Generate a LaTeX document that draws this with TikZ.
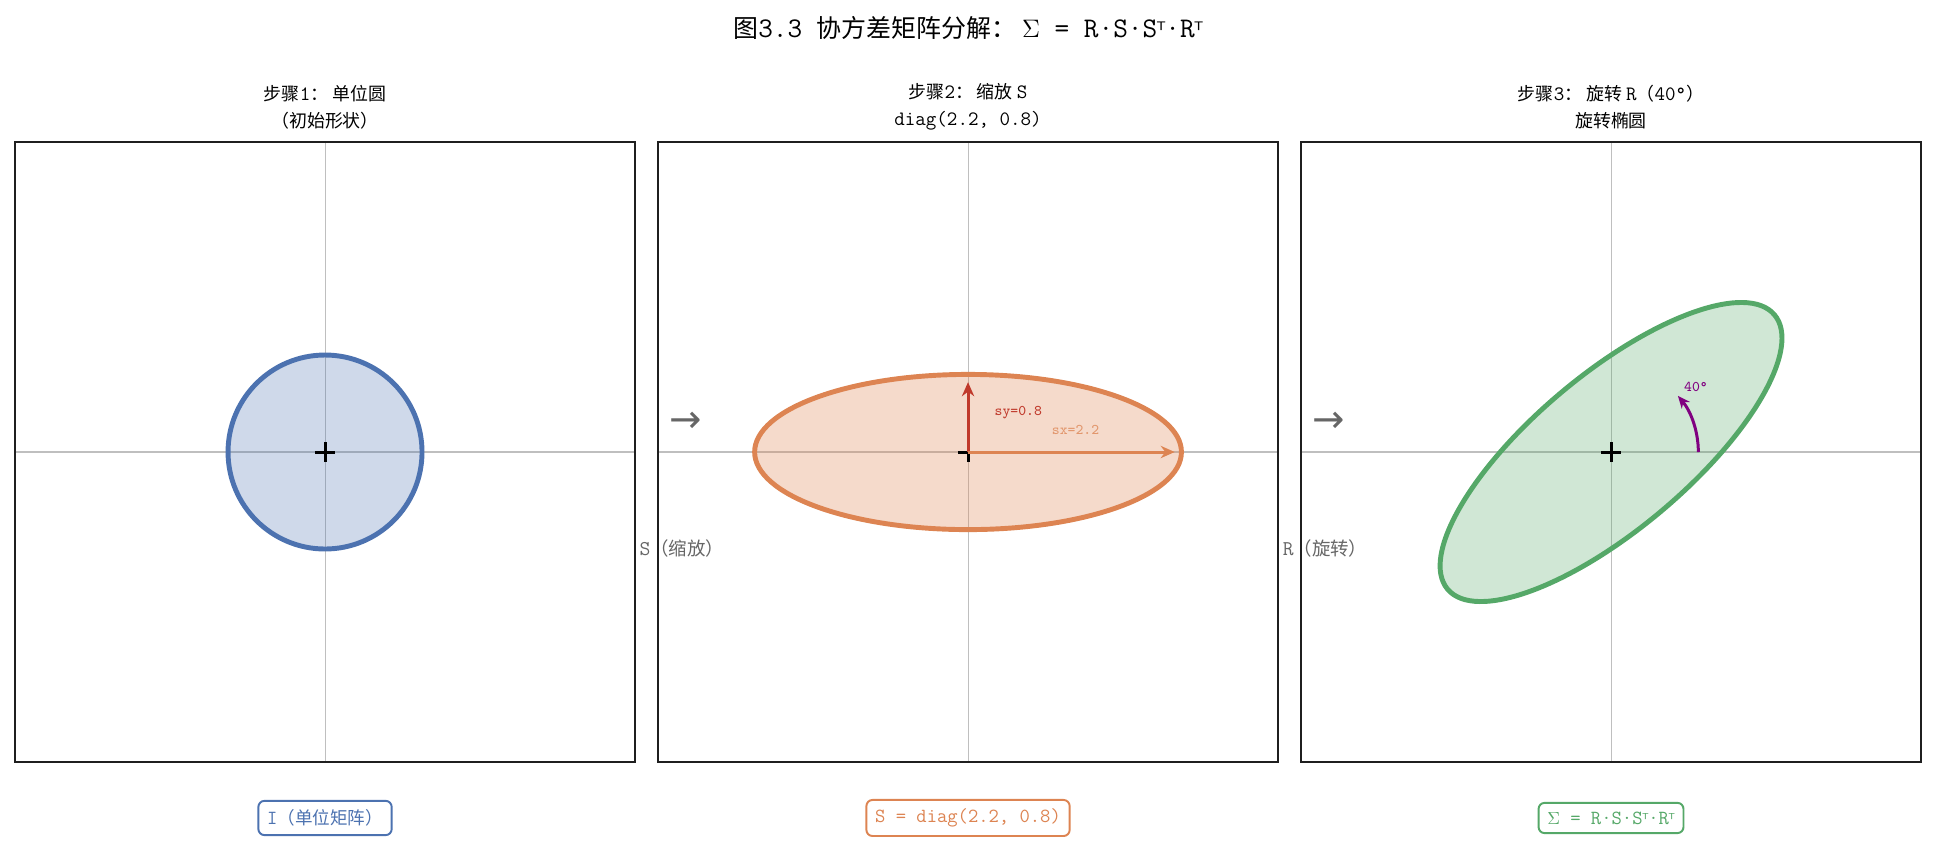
\documentclass[tikz,border=0pt]{standalone}
\usepackage{fontspec}
\setmainfont{Noto Sans CJK SC}
\setmonofont{Latin Modern Mono}[Scale=1.14]
\newfontfamily\djv{DejaVu Sans}
\usetikzlibrary{arrows.meta}

\definecolor{cblue}{HTML}{4C72B0}
\definecolor{corange}{HTML}{DD8452}
\definecolor{cgreen}{HTML}{55A868}
\definecolor{cred}{HTML}{C0392B}
\definecolor{cpurple}{HTML}{800080}

\newcommand{\supT}{{\djv\fontsize{0.85em}{1em}\selectfont ᵀ}}
\newcommand{\covar}{$\Sigma$\texttt{  = R·S·S}\supT\texttt{·R}\supT}

\tikzset{
  frame/.style={draw=black!88, line width=1.1pt},
  gridline/.style={draw=black!25, line width=0.6pt},
  centremark/.style={draw=black, line width=1.7pt},
  shapeline/.style={line width=2.8pt},
  paneltitle/.style={align=center, font=\fontsize{10.2}{15.5}\selectfont},
  sidenote/.style={text=black!60, font=\fontsize{10.5}{12}\selectfont},
  sidearrow/.style={text=black!60, font=\djv\fontsize{22}{24}\selectfont},
  tag/.style={draw, rounded corners=3.5pt, line width=1.1pt, fill=white,
    inner xsep=5pt, inner ysep=5pt, font=\fontsize{10}{12}\selectfont},
  small/.style={font=\ttfamily\fontsize{7.4}{10}\selectfont, anchor=west}
}

\begin{document}
\begin{tikzpicture}[x=1.94cm, y=1.94cm]
  \useasboundingbox (-3.351,-4.021) rectangle (16.598,4.660);

  % panel centres
  \coordinate (c1) at (0,0);
  \coordinate (c2) at (6.629,0);
  \coordinate (c3) at (13.258,0);

  % frames and grid lines
  \foreach \c in {c1,c2,c3} {
    \draw[gridline] ([xshift=-3.196*1.94cm]\c) -- ([xshift=3.196*1.94cm]\c);
    \draw[gridline] ([yshift=-3.196*1.94cm]\c) -- ([yshift=3.196*1.94cm]\c);
    \draw[frame] ([shift={(-3.196,-3.196)}]\c) rectangle ([shift={(3.196,3.196)}]\c);
  }

  \node (title) at (6.63,4.371) {\fontsize{14.2}{17}\selectfont 图\texttt{3.3 }协方差矩阵分解： \covar};

  \node[paneltitle] (t1) at (0,3.557) {步骤\texttt{1}： 单位圆\\（初始形状）};
  \node[paneltitle] (t2) at (6.629,3.557) {步骤\texttt{2}： 缩放 \texttt{S}\\\texttt{diag(2.2, 0.8)}};
  \node[paneltitle] (t3) at (13.258,3.557) {步骤\texttt{3}： 旋转 \texttt{R}（\texttt{40°}）\\旋转椭圆};

  % step 1: unit circle
  \fill[cblue, opacity=0.27] (c1) circle (1);
  \draw[cblue, shapeline] (c1) circle (1);
  \draw[centremark] ([xshift=-0.2cm]c1) -- ([xshift=0.2cm]c1);
  \draw[centremark] ([yshift=-0.2cm]c1) -- ([yshift=0.2cm]c1);

  % step 2: scaled ellipse
  \fill[corange, opacity=0.3] (c2) ellipse (2.2 and 0.8);
  \draw[corange, shapeline] (c2) ellipse (2.2 and 0.8);
  \draw[centremark] ([xshift=-0.2cm]c2) -- ([xshift=0.2cm]c2);
  \draw[centremark] ([yshift=-0.2cm]c2) -- ([yshift=0.2cm]c2);
  \coordinate (sytip) at (6.629,0.72);
  \coordinate (sxtip) at (8.76,0);
  \draw[cred, line width=1.7pt, -{Stealth[length=8pt,width=7pt]}] (c2) -- (sytip);
  \draw[corange, line width=1.7pt, -{Stealth[length=8pt,width=7pt]}] (c2) -- (sxtip);
  \node[small, text=cred] (sy) at (6.84,0.41) {sy=0.8};
  \node[small, text=corange!85] (sx) at (7.43,0.227) {sx=2.2};

  % step 3: rotated ellipse
  \begin{scope}[shift={(c3)}, rotate=40]
    \fill[cgreen, opacity=0.28] (0,0) ellipse (2.2 and 0.8);
    \draw[cgreen, shapeline] (0,0) ellipse (2.2 and 0.8);
  \end{scope}
  \draw[centremark] ([xshift=-0.2cm]c3) -- ([xshift=0.2cm]c3);
  \draw[centremark] ([yshift=-0.2cm]c3) -- ([yshift=0.2cm]c3);
  \draw[cpurple, line width=1.7pt, -{Stealth[length=7pt,width=6pt]}]
    ([shift={(0:0.9)}]c3) arc[start angle=0, end angle=40, radius=0.9];
  \node[small, anchor=center, text=cpurple] (ang) at (14.134,0.67) {40°};

  % between the panels
  \node[sidearrow] (a12) at (3.72,0.31) {→};
  \node[sidenote] (n12) at (3.68,-0.99) {\texttt{S}（缩放）};
  \node[sidearrow] (a23) at (10.35,0.31) {→};
  \node[sidenote] (n23) at (10.31,-0.99) {\texttt{R}（旋转）};

  % matrices under the panels
  \node[tag, draw=cblue, text=cblue] (m1) at (0,-3.773) {\texttt{I}（单位矩阵）};
  \node[tag, draw=corange, text=corange] (m2) at (6.629,-3.773) {\texttt{S = diag(2.2, 0.8)}};
  \node[tag, draw=cgreen, text=cgreen] (m3) at (13.258,-3.773) {\covar};
\end{tikzpicture}
\end{document}
